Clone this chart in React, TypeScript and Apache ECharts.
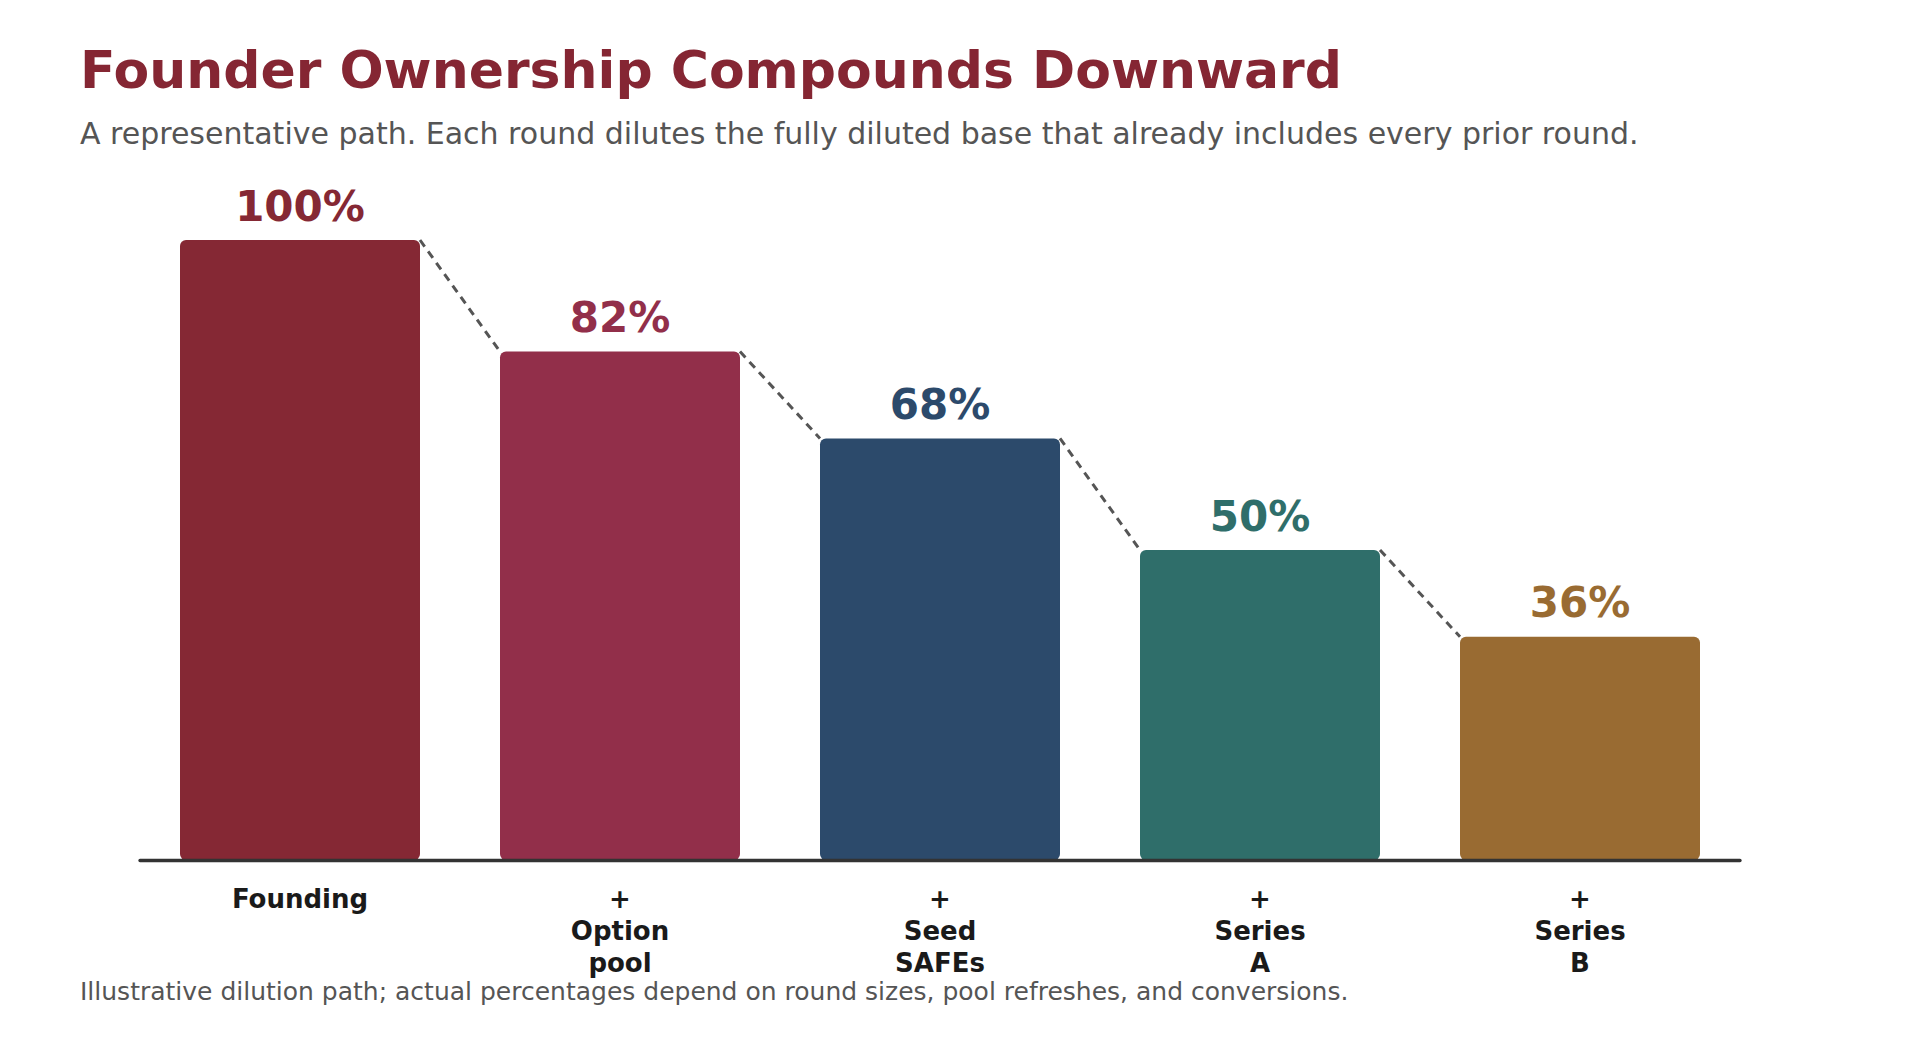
import * as React from "react";
import * as echarts from "echarts";

const categories = [
  "Founding",
  "+\nOption\npool",
  "+\nSeed\nSAFEs",
  "+\nSeries\nA",
  "+\nSeries\nB",
];
const ownership = [100, 82, 68, 50, 36];
const barColors = ["#852834", "#922F4A", "#2C4A6B", "#2F6E6A", "#996B32"];

const titleText = "Founder Ownership Compounds Downward";
const subtitleText =
  "A representative path. Each round dilutes the fully diluted base that already includes every prior round.";
const footnoteText =
  "Illustrative dilution path; actual percentages depend on round sizes, pool refreshes, and conversions.";

const font = "DejaVu Sans";

export default function App() {
  const chartRef = React.useRef<HTMLDivElement | null>(null);

  React.useEffect(() => {
    document.body.style.margin = "0";
    document.body.style.overflow = "hidden";
    if (!chartRef.current) return;
    const chart = echarts.init(chartRef.current, undefined, { renderer: "svg" });

    // connectors: [index, this value, next value]
    const steps = ownership.slice(0, -1).map((v, i) => [i, v, ownership[i + 1]]);

    chart.setOption({
      animation: false,
      backgroundColor: "#ffffff",
      textStyle: { fontFamily: font },
      grid: { left: 140, right: 180, top: 178, bottom: 180 },
      graphic: [
        {
          type: "text",
          x: 80,
          y: 70,
          style: {
            text: titleText,
            fill: "#852633",
            font: `bold 52px '${font}'`,
            verticalAlign: "middle",
          },
        },
        {
          type: "text",
          x: 80,
          y: 133,
          style: {
            text: subtitleText,
            fill: "#555555",
            font: `30px '${font}'`,
            verticalAlign: "middle",
          },
        },
        {
          type: "text",
          x: 80,
          y: 991,
          style: {
            text: footnoteText,
            fill: "#555555",
            font: `25px '${font}'`,
            verticalAlign: "middle",
          },
        },
      ],
      xAxis: {
        type: "category",
        data: categories,
        axisLine: { show: true, lineStyle: { color: "#333333", width: 3.3 } },
        axisTick: { show: false },
        axisLabel: {
          interval: 0,
          margin: 23,
          color: "#1a1a1a",
          fontSize: 26,
          fontWeight: "bold",
          fontFamily: font,
          lineHeight: 32,
          verticalAlign: "top",
        },
        z: 5,
      },
      yAxis: {
        type: "value",
        min: 0,
        max: 110,
        show: false,
        splitLine: { show: false },
      },
      series: [
        {
          type: "bar",
          barWidth: "75%",
          data: ownership.map((value, i) => ({
            value,
            itemStyle: { color: barColors[i], borderRadius: 6 },
            label: { color: barColors[i] },
          })),
          label: {
            show: true,
            position: "top",
            distance: 13,
            formatter: "{c}%",
            fontSize: 42,
            fontWeight: "bold",
            fontFamily: font,
          },
        },
        {
          type: "custom",
          data: steps,
          encode: { x: 0, y: 1 },
          z: 3,
          renderItem: (_params: any, api: any) => {
            const i = api.value(0);
            const band = api.size([1, 0])[0];
            const p0 = api.coord([i, api.value(1)]);
            const p1 = api.coord([i + 1, api.value(2)]);
            return {
              type: "line",
              shape: {
                x1: p0[0] + band * 0.375,
                y1: p0[1],
                x2: p1[0] - band * 0.375,
                y2: p1[1],
              },
              style: { stroke: "#555555", lineWidth: 3, lineDash: [8, 6] },
            };
          },
        },
      ],
    });

    return () => {
      chart.dispose();
    };
  }, []);

  return (
    <div
      ref={chartRef}
      style={{ position: "fixed", left: 0, top: 0, width: 1920, height: 1040 }}
    />
  );
}
